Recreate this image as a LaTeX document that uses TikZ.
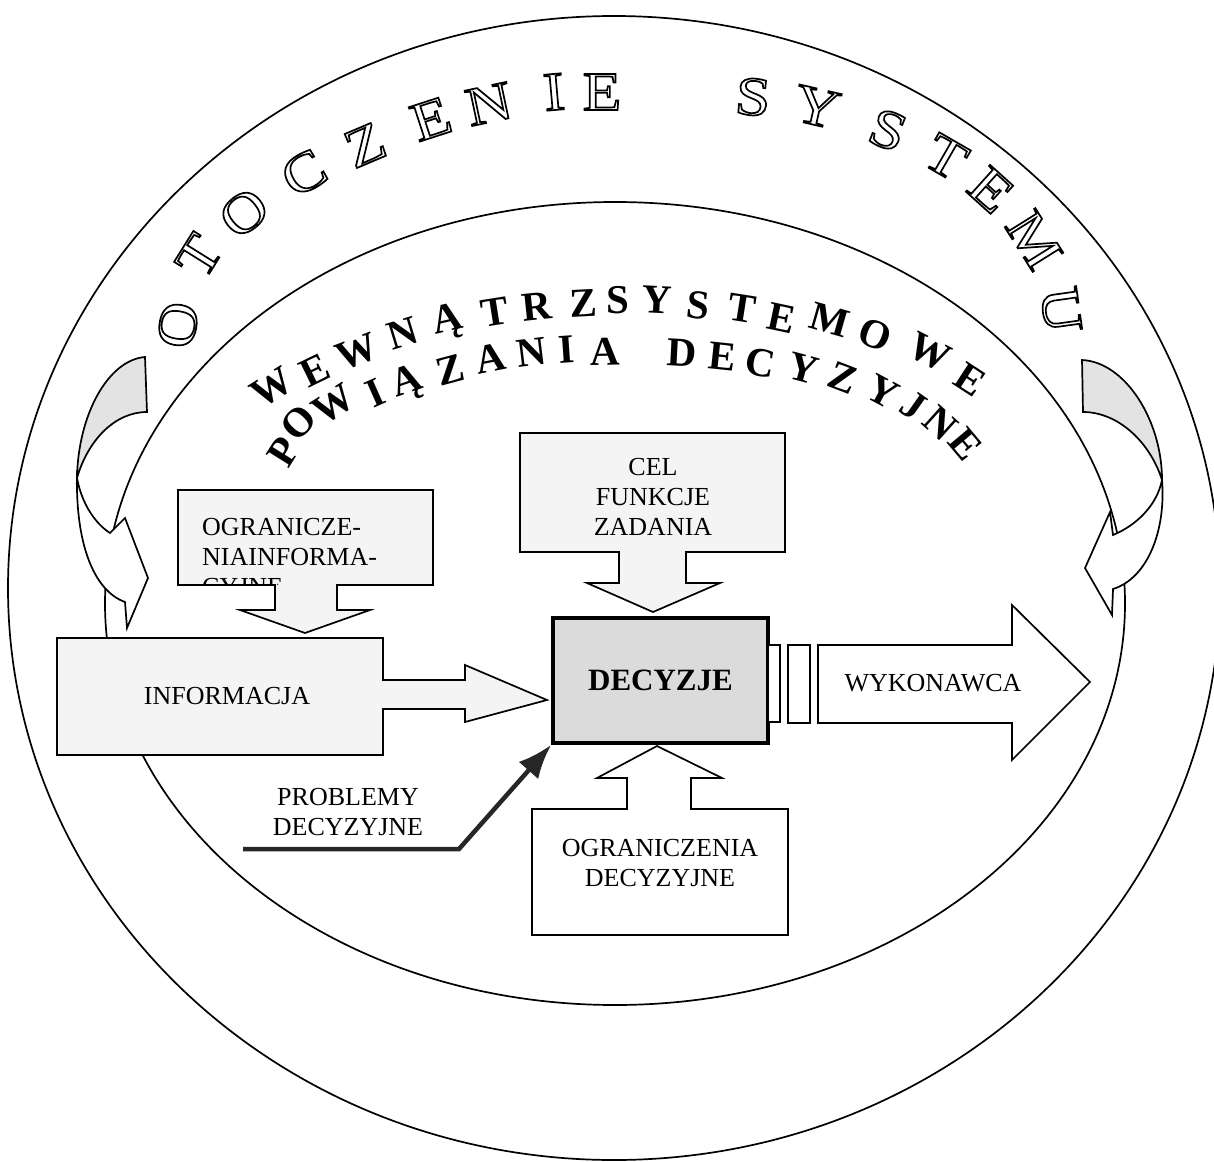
\documentclass[tikz,border=0pt]{standalone}
\usepackage{fontspec}
\setmainfont{Liberation Serif}
\newfontfamily\castfont[FakeStretch=1.15]{Liberation Serif}
\usetikzlibrary{arrows.meta}
\newcommand\hollowtxt[1]{\special{pdf:literal direct 1 Tr 1.7 w}#1\special{pdf:literal direct 0 Tr}}
\tikzset{
  ell/.style={draw, line width=1.7pt},
  shp/.style={draw, line width=1.7pt, fill=gray!9},
  lbl/.style={inner sep=0pt, font=\fontsize{26}{30}\selectfont, align=center},
  outerletter/.style={inner sep=0pt, font=\castfont\fontsize{55}{55}\selectfont},
  innerletter/.style={inner sep=0pt, font=\fontsize{41}{41}\selectfont\bfseries},
  ribbonback/.style={draw, line width=1.7pt, fill=gray!22},
  ribbonfront/.style={draw, line width=1.7pt, fill=white},
  smallbar/.style={draw, line width=1.7pt, fill=white, inner sep=0pt},
}
\begin{document}
\begin{tikzpicture}[x=1pt,y=-1pt]
\useasboundingbox (0,0) rectangle (1214,1161);
\fill[white] (0,0) rectangle (1214,1161);

% environment and system boundaries
\draw[ell] (614,588) ellipse [x radius=606pt, y radius=572pt];
\draw[ell] (615,603.5) ellipse [x radius=510pt, y radius=401.5pt];

% OTOCZENIE SYSTEMU
\foreach \l/\x/\y/\a [count=\i] in {O/178/325/80, T/199/256/58, O/244/213/39, C/304/173/30,
  Z/365/145/23, E/431/119/18, N/489/104/12, I/554/92/5, E/602/92/0,
  S/753/97/-5, Y/817/107/-13, S/888/130/-21, T/946/157/-30, E/991/190/-42,
  M/1034/240/-58, U/1061/310/-82}
  \node[outerletter, rotate=\a] (oz\i) at (\x,\y) {\hollowtxt{\l}};

% WEWNATRZSYSTEMOWE
\foreach \l/\x/\y/\a [count=\i] in {W/272/388/32, E/315/370/26, W/357/352/21, N/403/333/17,
  Ą/448/322/13, T/495/312/9, R/537/307/6, Z/583/303/3, S/618/300/0, Y/657/300/-3,
  S/698/305/-6, T/742/308/-9, E/782/318/-12, M/830/320/-16, O/875/335/-21,
  W/930/352/-27, E/970/380/-33}
  \node[innerletter, rotate=\a] (wa\i) at (\x,\y) {\l};

% POWIAZANIA DECYZYJNE
\foreach \l/\x/\y/\a [count=\i] in {P/284/452/58, O/299/423/47, W/334/404/33, I/375/393/24,
  Ą/407/384/19, Z/450/370/15, A/490/358/11, N/532/352/7, I/567/350/4, A/605/352/1,
  D/682/353/-3, E/722/357/-6, C/760/363/-10, Y/803/368/-15, Z/843/378/-21,
  Y/883/392/-28, J/913/406/-35, N/940/423/-42, E/966/444/-50}
  \node[innerletter, rotate=\a] (pd\i) at (\x,\y) {\l};

% curved ribbon arrows
\draw[ribbonback] (145,357) .. controls (108,360) and (78,415) .. (77,478)
  .. controls (88,440) and (115,412) .. (147,412) -- cycle;
\draw[ribbonfront] (77,478) .. controls (82,505) and (96,524) .. (110,533) -- (125,518)
  -- (148,578) -- (127,628) -- (125,602) .. controls (92,590) and (76,540) .. (77,478) -- cycle;
\draw[ribbonback] (1082,360) .. controls (1125,362) and (1162,420) .. (1162,480)
  .. controls (1150,442) and (1118,412) .. (1083,412) -- cycle;
\draw[ribbonfront] (1162,480) .. controls (1157,505) and (1137,525) .. (1113,535) -- (1110,512)
  -- (1085,568) -- (1112,615) -- (1113,589) .. controls (1148,578) and (1166,530) .. (1162,480) -- cycle;

% OGRANICZENIA INFORMACYJNE
\draw[shp] (178,490) -- (433,490) -- (433,585) -- (337,585) -- (337,610) -- (370,610)
  -- (305,633) -- (240,610) -- (275,610) -- (275,585) -- (178,585) -- cycle;
\begin{scope}
  \clip (178,490) rectangle (433,584);
  \node[lbl, align=left, anchor=west] (ogrinf) at (202,557) {OGRANICZE-\\NIAINFORMA-\\CYJNE};
\end{scope}

% CEL FUNKCJE ZADANIA
\draw[shp] (520,433) -- (785,433) -- (785,552) -- (686,552) -- (686,583) -- (720,583)
  -- (653,612) -- (587,583) -- (619,583) -- (619,552) -- (520,552) -- cycle;
\node[lbl] (cel) at (653,497) {CEL\\FUNKCJE\\ZADANIA};

% INFORMACJA
\draw[shp] (57,638) -- (383,638) -- (383,680) -- (465,680) -- (465,665) -- (547,700)
  -- (465,722) -- (465,709) -- (383,709) -- (383,755) -- (57,755) -- cycle;
\node[lbl] (inf) at (227,696) {INFORMACJA};

% DECYZJE
\node[draw, line width=3.8pt, fill=gray!28, minimum width=215pt, minimum height=125pt,
  inner sep=0pt, font=\fontsize{31}{31}\selectfont\bfseries] (dec) at (660.5,680.5) {DECYZJE};
\node[smallbar, minimum width=12pt, minimum height=77pt] (bar1) at (774,683.5) {};
\node[smallbar, minimum width=22pt, minimum height=78pt] (bar2) at (799,684) {};

% WYKONAWCA
\draw[shp, fill=white] (818,645) -- (1012,645) -- (1012,605) -- (1090,682) -- (1012,760)
  -- (1012,723) -- (818,723) -- cycle;
\node[lbl] (wyk) at (933,683) {WYKONAWCA};

% OGRANICZENIA DECYZYJNE
\draw[shp, fill=white] (532,809) -- (627,809) -- (627,778) -- (597,778) -- (657,746)
  -- (722,778) -- (691,778) -- (691,809) -- (788,809) -- (788,935) -- (532,935) -- cycle;
\node[lbl] (ogrdec) at (660,863) {OGRANICZENIA\\DECYZYJNE};

% PROBLEMY DECYZYJNE
\node[lbl] (prob) at (348,812) {PROBLEMY\\DECYZYJNE};
\coordinate (pstart) at (243,849);
\coordinate (pbend) at (459,849);
\draw[line width=4.5pt, black!85, -{Latex[length=34pt, width=26pt]}]
  (pstart) -- (pbend) -- (dec.south west);
\end{tikzpicture}
\end{document}
